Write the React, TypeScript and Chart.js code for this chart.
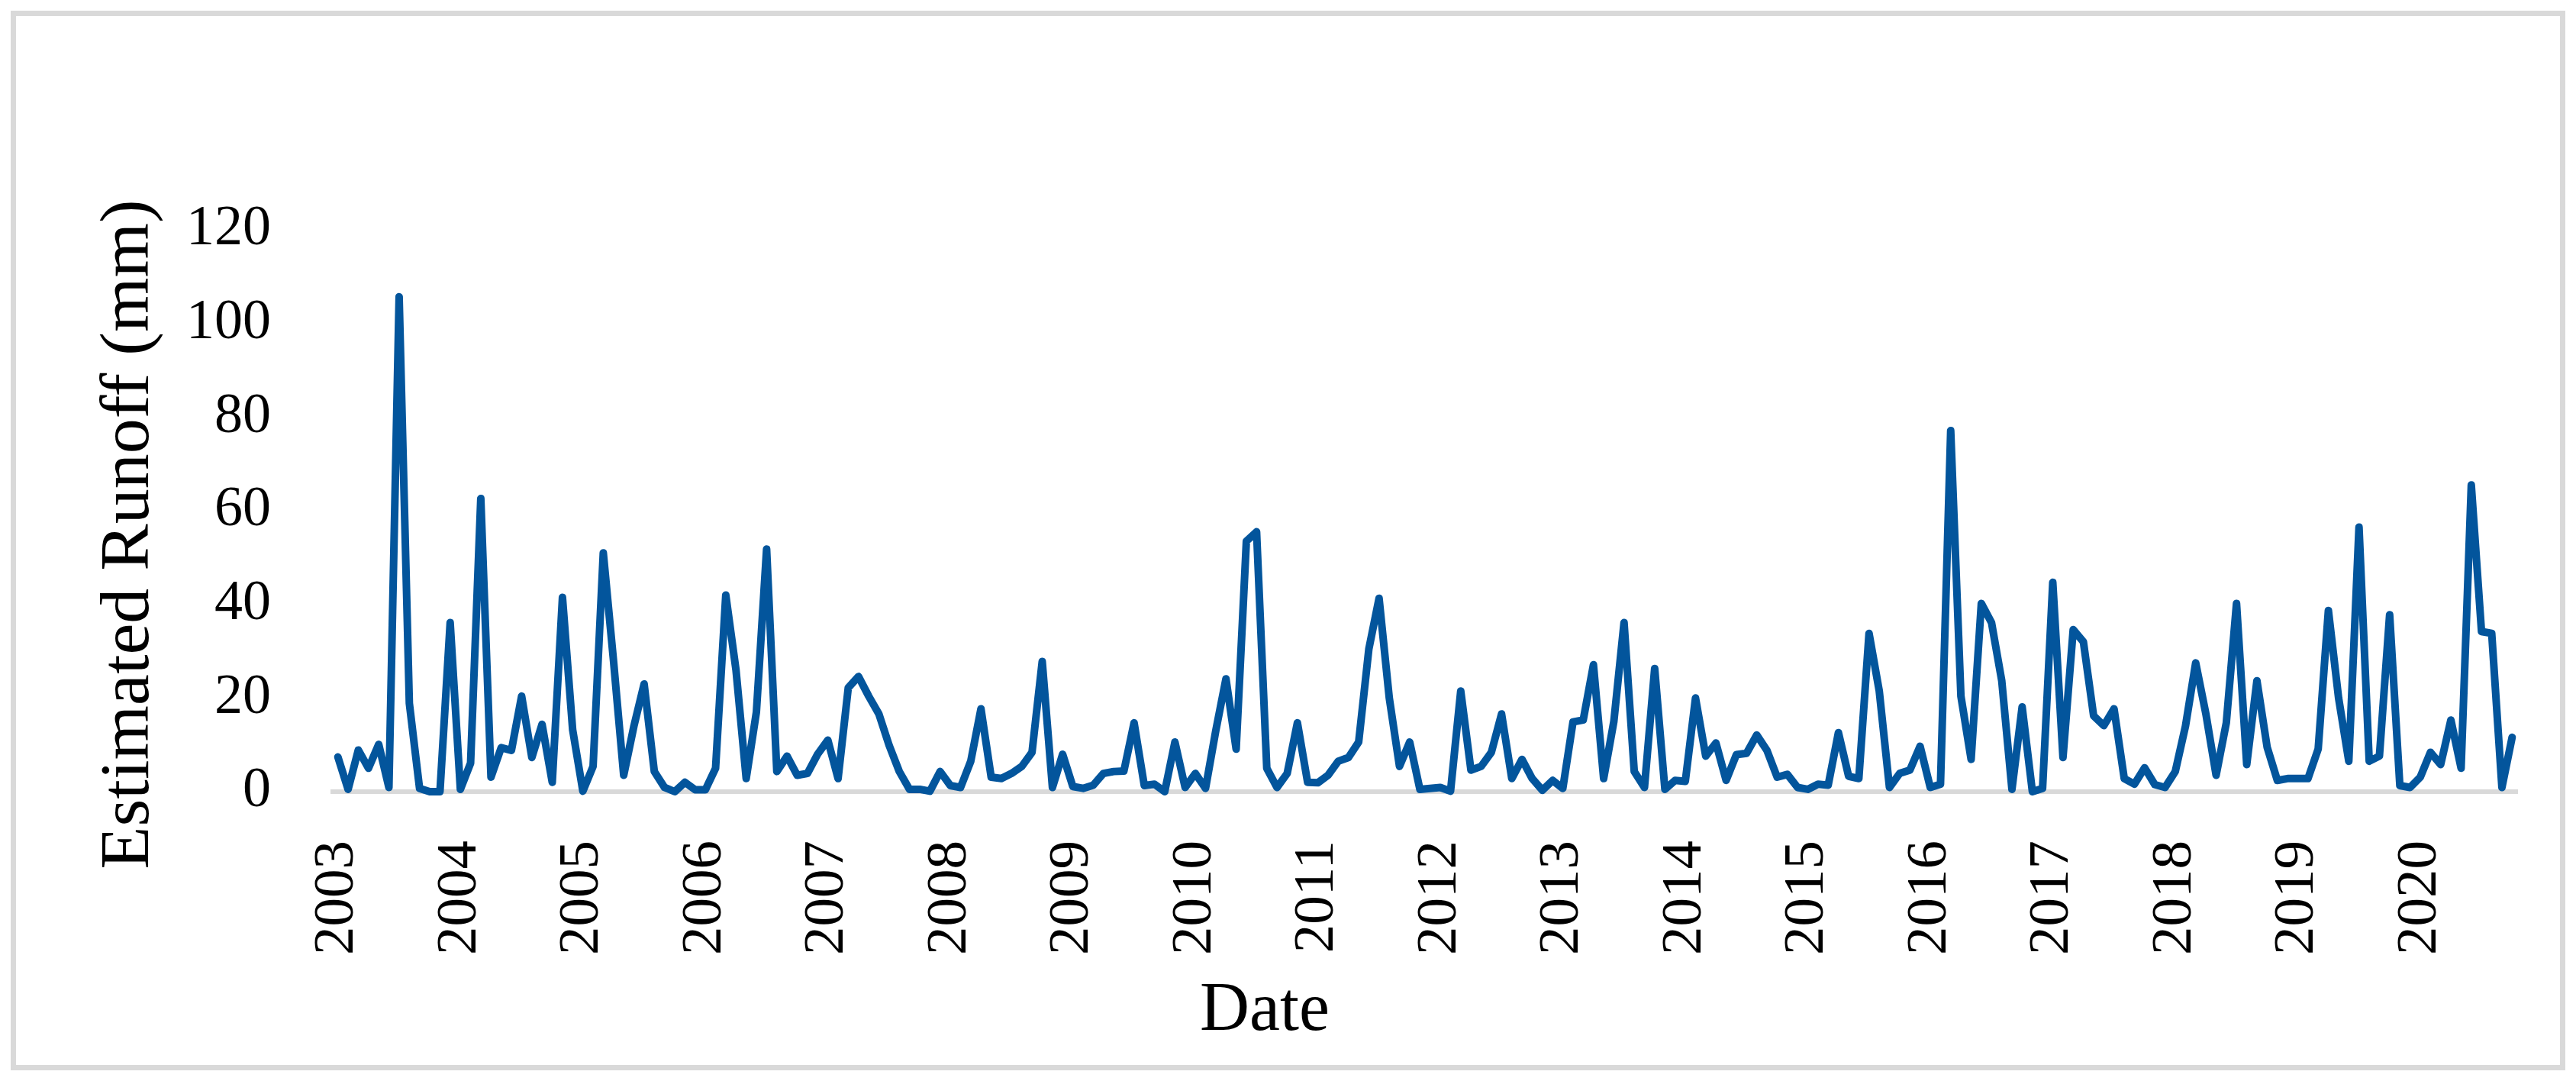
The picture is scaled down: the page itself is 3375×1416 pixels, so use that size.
import { useEffect, useRef } from "react";
import { Chart, registerables } from "chart.js";

Chart.register(...registerables);

// ---- Data (monthly estimated runoff, mm) ----
const YEARS = [2003, 2004, 2005, 2006, 2007, 2008, 2009, 2010, 2011, 2012, 2013, 2014, 2015, 2016, 2017, 2018, 2019, 2020];
const MONTHS = ["Jan", "Feb", "Mar", "Apr", "May", "Jun", "Jul", "Aug", "Sep", "Oct", "Nov", "Dec"];

const RUNOFF_2003 = [7.4, 0.5, 8.9, 5.0, 10.1, 0.9, 105.7, 18.9, 0.7, 0, 0, 36.1];
const RUNOFF_2004 = [0.5, 6.1, 62.6, 3.1, 9.4, 8.8, 20.4, 7.3, 14.4, 2.0, 41.5, 13.2];
const RUNOFF_2005 = [0.1, 5.4, 51.0, 28.0, 3.5, 14.0, 23.0, 4.3, 0.9, 0, 2.0, 0.4];
const RUNOFF_2006 = [0.4, 5.0, 42.0, 26.0, 2.8, 17.0, 51.8, 4.3, 7.6, 3.5, 3.9, 8.0];
const RUNOFF_2007 = [11.0, 2.8, 22.2, 24.6, 20.4, 16.6, 9.9, 4.3, 0.5, 0.5, 0.1, 4.3];
const RUNOFF_2008 = [1.3, 0.9, 6.5, 17.7, 3.1, 2.8, 3.9, 5.4, 8.4, 27.8, 0.9, 8.0];
const RUNOFF_2009 = [1.1, 0.7, 1.4, 3.9, 4.3, 4.4, 14.7, 1.3, 1.6, 0, 10.6, 0.9];
const RUNOFF_2010 = [3.9, 0.7, 13.0, 24.1, 9.1, 53.5, 55.5, 5.0, 0.9, 3.9, 14.7, 2.0];
const RUNOFF_2011 = [1.9, 3.5, 6.5, 7.3, 10.6, 30.5, 41.3, 20.0, 5.4, 10.6, 0.5, 0.7];
const RUNOFF_2012 = [0.9, 0.1, 21.5, 4.6, 5.4, 8.4, 16.6, 2.8, 6.9, 2.8, 0.3, 2.4];
const RUNOFF_2013 = [0.7, 14.9, 15.3, 27.1, 2.8, 15.0, 36.1, 4.3, 0.9, 26.3, 0.5, 2.4];
const RUNOFF_2014 = [2.2, 20.0, 7.6, 10.4, 2.4, 7.9, 8.2, 12.1, 8.8, 3.1, 3.7, 0.9];
const RUNOFF_2015 = [0.5, 1.6, 1.4, 12.6, 3.3, 2.8, 33.8, 21.5, 0.9, 3.9, 4.6, 9.7];
const RUNOFF_2016 = [0.9, 1.6, 77.1, 20.4, 6.9, 40.2, 36.1, 23.7, 0.5, 18.1, 0, 0.7];
const RUNOFF_2017 = [44.7, 7.3, 34.6, 32.0, 16.2, 14.1, 17.7, 2.8, 1.6, 5.1, 1.5, 0.9];
const RUNOFF_2018 = [4.3, 14.0, 27.5, 16.6, 3.5, 14.7, 40.2, 5.8, 23.7, 9.5, 2.4, 2.8];
const RUNOFF_2019 = [2.8, 2.8, 9.1, 38.7, 20.0, 6.5, 56.5, 6.5, 7.6, 37.8, 1.3, 0.9];
const RUNOFF_2020 = [3.1, 8.4, 5.8, 15.3, 5.0, 65.5, 34.2, 33.8, 0.9, 11.6];

const RUNOFF_BY_YEAR = [
  RUNOFF_2003, RUNOFF_2004, RUNOFF_2005, RUNOFF_2006, RUNOFF_2007, RUNOFF_2008,
  RUNOFF_2009, RUNOFF_2010, RUNOFF_2011, RUNOFF_2012, RUNOFF_2013, RUNOFF_2014,
  RUNOFF_2015, RUNOFF_2016, RUNOFF_2017, RUNOFF_2018, RUNOFF_2019, RUNOFF_2020,
];

const Y_MIN = 0;
const Y_MAX = 120;
const Y_STEP = 20;

const X_TITLE = "Date";
const Y_TITLE = "Estimated Runoff (mm)";

// ---- Styles ----
const FONT = "'Liberation Serif', 'Times New Roman', serif";
const LINE_COLOR = "#03559c";
const FRAME_COLOR = "#d9d9d9";

const W = 3375;
const H = 1416;

export default function App() {
  const canvasRef = useRef<HTMLCanvasElement | null>(null);

  useEffect(() => {
    document.body.style.margin = "0";
    const canvas = canvasRef.current;
    if (!canvas) return;

    const labels: string[] = [];
    const values: number[] = [];
    YEARS.forEach((year, yi) => {
      RUNOFF_BY_YEAR[yi].forEach((v, mi) => {
        labels.push(`${MONTHS[mi]} ${year}`);
        values.push(v);
      });
    });

    const decorPlugin = {
      id: "decor",
      beforeDraw(chart: any) {
        const ctx = chart.ctx;
        ctx.save();
        ctx.fillStyle = "#ffffff";
        ctx.fillRect(0, 0, chart.width, chart.height);
        ctx.strokeStyle = FRAME_COLOR;
        ctx.lineWidth = 7;
        ctx.strokeRect(17.5, 17.5, chart.width - 35, chart.height - 35);
        ctx.restore();
      },
      afterDraw(chart: any) {
        const ctx = chart.ctx;
        const area = chart.chartArea;
        ctx.save();
        ctx.fillStyle = "#000000";
        ctx.font = `90px ${FONT}`;
        // x-axis title
        ctx.textAlign = "center";
        ctx.textBaseline = "alphabetic";
        ctx.fillText(X_TITLE, area.left + (area.right - area.left) * 0.4266, area.bottom + 312);
        // y-axis title
        ctx.font = `92px ${FONT}`;
        ctx.translate(170, 700);
        ctx.rotate(-Math.PI / 2);
        ctx.textAlign = "center";
        ctx.textBaseline = "middle";
        ctx.fillText(Y_TITLE, 0, 0);
        ctx.restore();
      },
    };

    const chart = new Chart(canvas, {
      type: "line",
      data: {
        labels,
        datasets: [
          {
            data: values,
            borderColor: LINE_COLOR,
            borderWidth: 10,
            pointRadius: 0,
            tension: 0,
            fill: false,
            borderJoinStyle: "round",
            borderCapStyle: "round",
            clip: false,
          } as any,
        ],
      },
      options: {
        animation: false,
        responsive: false,
        maintainAspectRatio: false,
        devicePixelRatio: 1,
        layout: { padding: { left: 0, top: 301, right: 77, bottom: 0 } },
        plugins: {
          legend: { display: false },
          tooltip: { enabled: false },
        },
        scales: {
          x: {
            type: "category",
            offset: true,
            grid: { display: false, drawTicks: false },
            border: { display: true, color: FRAME_COLOR, width: 6 },
            ticks: {
              autoSkip: false,
              maxRotation: 90,
              minRotation: 90,
              padding: 64,
              color: "#000000",
              font: { family: FONT, size: 75 },
              callback: (_v: any, i: number) => (i % 12 === 0 ? String(YEARS[i / 12]) : ""),
            },
            afterFit: (s: any) => {
              s.height = 379;
              s.paddingLeft = 0;
              s.paddingRight = 0;
            },
          },
          y: {
            min: Y_MIN,
            max: Y_MAX,
            grid: { display: false, drawTicks: false },
            border: { display: false },
            ticks: {
              stepSize: Y_STEP,
              padding: 81,
              color: "#000000",
              font: { family: FONT, size: 74 },
            },
            afterFit: (s: any) => {
              s.width = 436;
              s.paddingTop = 0;
              s.paddingBottom = 0;
            },
          },
        },
      },
      plugins: [decorPlugin],
    });

    return () => chart.destroy();
  }, []);

  return (
    <div style={{ width: W, height: H, position: "relative" }}>
      <canvas ref={canvasRef} width={W} height={H} style={{ display: "block", width: W, height: H }} />
    </div>
  );
}
